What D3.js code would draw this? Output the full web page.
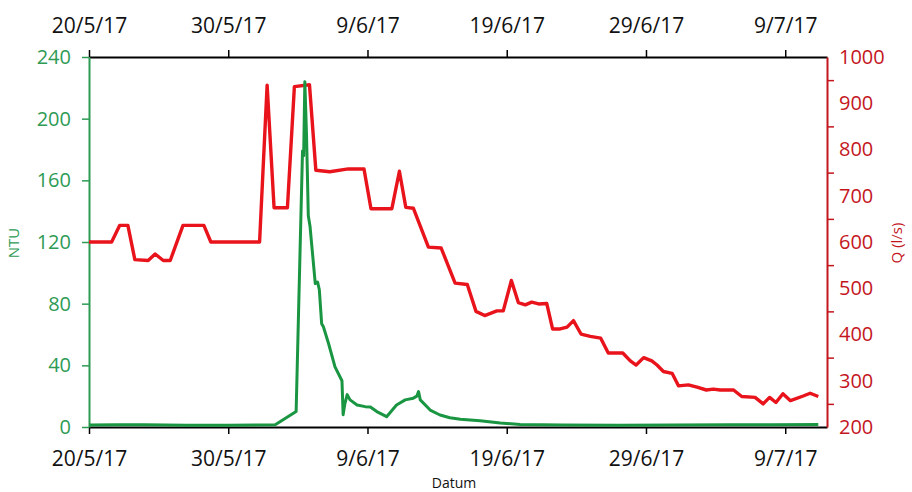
<!DOCTYPE html>
<html>
<head>
<meta charset="utf-8">
<script src="https://cdn.jsdelivr.net/npm/d3@7"></script>
<style>
  body { margin: 0; background: #fff; }
  svg { display: block; }
  text { font-family: "Open Sans", sans-serif; }
</style>
</head>
<body>
<svg id="chart" width="912" height="492"></svg>
<script>
// Turbidity (NTU) readings
const ntuTimes = [
  "2017-05-20 00","2017-05-22 00","2017-05-24 00","2017-05-27 00","2017-05-30 00",
  "2017-06-02 09","2017-06-03 21","2017-06-04 08","2017-06-04 10","2017-06-04 12","2017-06-04 15",
  "2017-06-04 18","2017-06-04 21","2017-06-05 06","2017-06-05 10","2017-06-05 13",
  "2017-06-05 17","2017-06-05 20","2017-06-06 05","2017-06-06 16","2017-06-07 04",
  "2017-06-07 06","2017-06-07 09","2017-06-07 13","2017-06-07 18","2017-06-08 06",
  "2017-06-08 20","2017-06-09 05","2017-06-09 16","2017-06-10 09","2017-06-11 02",
  "2017-06-11 17","2017-06-12 07","2017-06-12 13","2017-06-12 16","2017-06-12 19",
  "2017-06-13 12","2017-06-14 05","2017-06-14 22","2017-06-15 16","2017-06-17 02",
  "2017-06-18 13","2017-06-19 23","2017-06-23 00","2017-06-27 00","2017-07-01 00",
  "2017-07-05 00","2017-07-08 00","2017-07-11 09"
];
const ntuValues = [
  1.3, 1.5, 1.4, 1.2, 1.2,
  1.4, 10, 179, 176, 224, 188,
  137, 130, 93, 94, 89,
  67, 65, 54, 39, 30,
  8, 15, 21, 17.6, 14.3,
  13.2, 13, 10, 6.7, 14.3,
  17.6, 18.7, 20, 23, 17.6,
  11, 7.8, 6, 5, 4,
  2.6, 1.6, 1.3, 1.2, 1.3,
  1.5, 1.4, 1.6
];

// Discharge Q (l/s) readings
const qTimes = [
  "2017-05-20 00","2017-05-21 15","2017-05-22 05","2017-05-22 19","2017-05-23 07",
  "2017-05-24 06","2017-05-24 18","2017-05-25 08","2017-05-25 20","2017-05-26 18",
  "2017-05-28 06","2017-05-28 18","2017-05-30 06","2017-06-01 06","2017-06-01 19",
  "2017-06-02 07","2017-06-03 06","2017-06-03 18","2017-06-04 20","2017-06-05 07",
  "2017-06-06 07","2017-06-07 15","2017-06-08 18","2017-06-09 06","2017-06-10 18",
  "2017-06-11 07","2017-06-11 18","2017-06-12 07","2017-06-13 09","2017-06-14 07",
  "2017-06-15 07","2017-06-16 04","2017-06-16 19","2017-06-17 10","2017-06-18 07",
  "2017-06-18 18","2017-06-19 08","2017-06-19 20","2017-06-20 08","2017-06-20 19",
  "2017-06-21 07","2017-06-21 21","2017-06-22 07","2017-06-22 20","2017-06-23 08",
  "2017-06-23 19","2017-06-24 08","2017-06-25 00","2017-06-25 18","2017-06-26 07",
  "2017-06-27 08","2017-06-27 21","2017-06-28 07","2017-06-28 20","2017-06-29 10",
  "2017-06-29 19","2017-06-30 06","2017-06-30 21","2017-07-01 08","2017-07-02 01",
  "2017-07-02 16","2017-07-03 08","2017-07-03 20","2017-07-04 08","2017-07-05 07",
  "2017-07-05 21","2017-07-06 20","2017-07-07 10","2017-07-07 21","2017-07-08 08",
  "2017-07-08 20","2017-07-09 09","2017-07-10 07","2017-07-10 19","2017-07-11 09"
];
const qValues = [
  600, 600, 636, 636, 562,
  560, 574, 560, 560, 636,
  636, 600, 600, 600, 939,
  674, 674, 936, 940, 755,
  752, 758, 758, 672, 672,
  753, 675, 673, 589, 587,
  511, 508, 450, 441, 451,
  451, 517, 469, 464, 470,
  466, 467, 412, 412, 416,
  430, 401, 396, 392, 360,
  360, 343, 334, 350, 343,
  334, 320, 316, 289, 291,
  286, 280, 282, 280, 280,
  266, 264, 250, 264, 253,
  272, 257, 267, 273, 266
];

// Axis ticks
const dateTicks = ["2017-05-20 00","2017-05-30 00","2017-06-09 00","2017-06-19 00","2017-06-29 00","2017-07-09 00"];
const dateDomain = ["2017-05-20 00","2017-07-12 00"];
const ntuTicks = [0, 40, 80, 120, 160, 200, 240];
const qTicks = [200, 300, 400, 500, 600, 700, 800, 900, 1000];
const qMinorTicks = [250, 350, 450, 550, 650, 750, 850, 950];

const parse = d3.timeParse("%Y-%m-%d %H");
const fmt = d3.timeFormat("%-d/%-m/%y");

const green = "#1a9642", greenAxis = "#2e9b55";
const red = "#e8131b", redAxis = "#c4161e";

const plot = { left: 89, right: 827, top: 57, bottom: 427 };

const svg = d3.select("#chart");

const x = d3.scaleTime().domain(dateDomain.map(parse)).range([plot.left, plot.right]);
const yL = d3.scaleLinear().domain([0, 240]).range([plot.bottom, plot.top]);
const yR = d3.scaleLinear().domain([200, 1000]).range([plot.bottom, plot.top]);

function style(g, color, size) {
  g.select(".domain").attr("stroke", color).attr("stroke-width", 2);
  g.selectAll(".tick line").attr("stroke", color).attr("stroke-width", 1.5);
  g.selectAll(".tick text").attr("fill", color === "#000" ? "#111" : color)
    .style("font-size", size + "px");
}

// Top date axis
svg.append("g").attr("transform", `translate(0,${plot.top})`)
  .call(d3.axisTop(x).tickValues(dateTicks.map(parse)).tickFormat(fmt)
    .tickSize(7).tickSizeOuter(0).tickPadding(17))
  .call(g => style(g, "#000", 21));

// Bottom date axis
svg.append("g").attr("transform", `translate(0,${plot.bottom})`)
  .call(d3.axisBottom(x).tickValues(dateTicks.map(parse)).tickFormat(fmt)
    .tickSize(7).tickSizeOuter(0).tickPadding(17))
  .call(g => style(g, "#000", 21));

// Left NTU axis
svg.append("g").attr("transform", `translate(${plot.left},0)`)
  .call(d3.axisLeft(yL).tickValues(ntuTicks).tickFormat(d3.format("d"))
    .tickSize(7).tickSizeOuter(0).tickPadding(11))
  .call(g => style(g, greenAxis, 20));

// Right Q axis: labels at hundreds, tick marks at the fifties
svg.append("g").attr("transform", `translate(${plot.right},0)`)
  .call(d3.axisRight(yR).tickValues(qTicks).tickFormat(d3.format("d"))
    .tickSize(0).tickSizeOuter(0).tickPadding(12))
  .call(g => style(g, redAxis, 20));
svg.append("g").attr("transform", `translate(${plot.right},0)`)
  .call(d3.axisRight(yR).tickValues(qMinorTicks).tickFormat("")
    .tickSize(7).tickSizeOuter(0))
  .call(g => { g.select(".domain").remove(); g.selectAll(".tick line").attr("stroke", redAxis).attr("stroke-width", 1.5); });

// Axis titles
svg.append("text").attr("transform", "translate(19,243) rotate(-90)")
  .attr("text-anchor", "middle").attr("fill", greenAxis).style("font-size", "15px").text("NTU");
svg.append("text").attr("transform", "translate(902,243) rotate(-90)")
  .attr("text-anchor", "middle").attr("fill", redAxis).style("font-size", "15px").text("Q (l/s)");
svg.append("text").attr("x", 454).attr("y", 488)
  .attr("text-anchor", "middle").attr("fill", "#111").style("font-size", "14px").text("Datum");

// Series
const qData = qTimes.map((t, i) => ({ t: parse(t), v: qValues[i] }));
const ntuData = ntuTimes.map((t, i) => ({ t: parse(t), v: ntuValues[i] }));

svg.append("path").datum(qData)
  .attr("fill", "none").attr("stroke", red).attr("stroke-width", 3.4)
  .attr("stroke-linejoin", "round")
  .attr("d", d3.line().x(d => x(d.t)).y(d => yR(d.v)));

svg.append("path").datum(ntuData)
  .attr("fill", "none").attr("stroke", green).attr("stroke-width", 3)
  .attr("stroke-linejoin", "round")
  .attr("d", d3.line().x(d => x(d.t)).y(d => yL(d.v)));
</script>
</body>
</html>
